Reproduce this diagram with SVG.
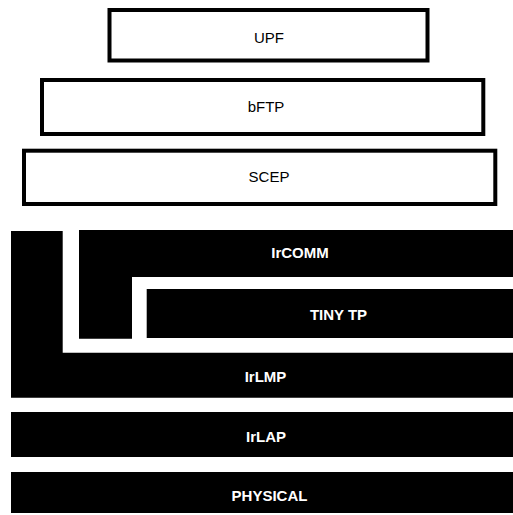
<svg xmlns="http://www.w3.org/2000/svg" width="513" height="515" viewBox="0 0 513 515">
<style>
.box{fill:#fff;stroke:#000;stroke-width:4}
.blk{fill:#000}
.t{font-family:"Liberation Sans",Arial,sans-serif;font-size:15px;text-anchor:middle;fill:#000}
.tw{font-family:"Liberation Sans",Arial,sans-serif;font-size:15px;font-weight:bold;text-anchor:middle;fill:#fff}
</style>
<rect width="513" height="515" fill="#fff"/>
<g id="upf"><rect class="box" x="109.5" y="10" width="318" height="50.5"/><text class="t" x="269" y="43.3">UPF</text></g>
<g id="bftp"><rect class="box" x="42" y="80" width="441.3" height="54"/><text class="t" x="266" y="112.3">bFTP</text></g>
<g id="scep"><rect class="box" x="24" y="150.7" width="471.3" height="53.3"/><text class="t" x="269" y="182.3">SCEP</text></g>
<g id="irlmp"><polygon class="blk" points="11,231 62.7,231 62.7,352.7 513,352.7 513,397.7 11,397.7"/><text class="tw" x="265.5" y="381.5">IrLMP</text></g>
<g id="ircomm"><polygon class="blk" points="79,230 513,230 513,277 132,277 132,338.7 79,338.7"/><text class="tw" x="300" y="257.7">IrCOMM</text></g>
<g id="tinytp"><rect class="blk" x="146.7" y="289" width="366.3" height="49"/><text class="tw" x="338.5" y="320">TINY TP</text></g>
<g id="irlap"><rect class="blk" x="11" y="412" width="502" height="45"/><text class="tw" x="266" y="442.3">IrLAP</text></g>
<g id="physical"><rect class="blk" x="11" y="472" width="502" height="41"/><text class="tw" x="269.5" y="500.7">PHYSICAL</text></g>
<g id="connectors"/>
</svg>
